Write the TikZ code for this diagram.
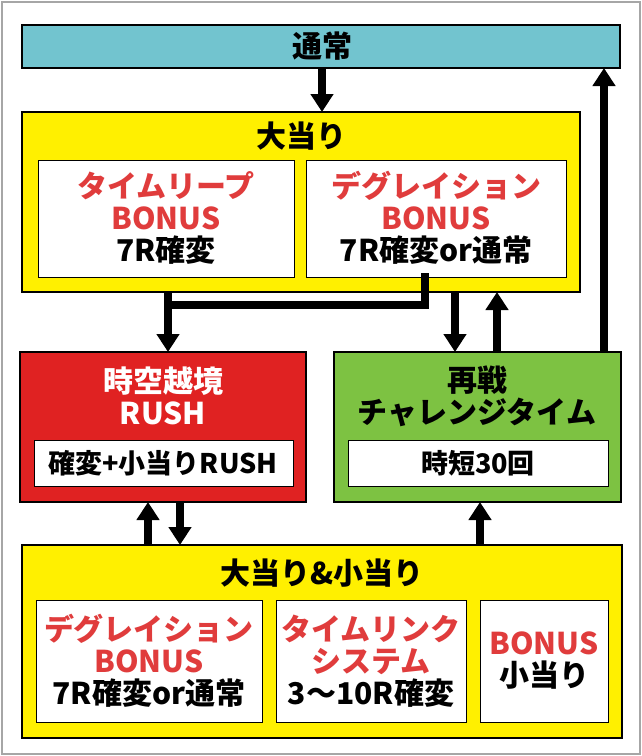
\documentclass[tikz,border=0pt]{standalone}
\usepackage{fontspec}
\setmainfont{Noto Sans CJK JP}
\usetikzlibrary{arrows.meta,positioning}
\definecolor{tsujo}{HTML}{72C4CF}
\definecolor{kiiro}{HTML}{FFF000}
\definecolor{aka}{HTML}{E02222}
\definecolor{midori}{HTML}{7DC242}
\definecolor{moji}{HTML}{E03C3C}
\begin{document}
\begin{tikzpicture}[x=1pt,y=-1pt,
    waku/.style = {draw, line width=1.2pt},% outer boxes
    naka/.style = {draw, line width=1pt, fill=white},% inner boxes
    midashi/.style = {font=\fontsize{30}{34}\selectfont\bfseries},
    nakamoji/.style = {align=center, font=\fontsize{30}{32}\selectfont\bfseries},
    ya/.style = {line width=8pt, -{Triangle[width=22pt,length=18pt]}},
    sen/.style = {line width=8pt},
                        ]
\useasboundingbox (0,0) rectangle (642,756);
\draw[gray!70, line width=2pt] (2,2) rectangle (640,754);
% boxes
\draw[waku, fill=tsujo] (22,25) rectangle (620,68);
\node[midashi] (tsujo) at (322,46) {通常};
\draw[waku, fill=kiiro] (22,112) rectangle (580,292);
\node[midashi] (ooatari) at (301,136) {大当り};
\draw[naka] (38,160) rectangle (294,277);
\draw[naka] (306,160) rectangle (566,277);
\node[nakamoji] (leap) at (166,218) {\textcolor{moji}{タイムリープ}\\\textcolor{moji}{BONUS}\\7R確変};
\node[nakamoji] (degu) at (436,218) {\textcolor{moji}{デグレイション}\\\textcolor{moji}{BONUS}\\7R確変or通常};
\draw[waku, fill=aka] (20,352) rectangle (306,502);
\node[nakamoji, text=white] (rush) at (163,396) {時空越境\\RUSH};
\draw[naka] (34,440) rectangle (293,486);
\node[nakamoji, font=\fontsize{27}{30}\selectfont\bfseries] (kakuhen) at (163,463) {確変+小当りRUSH};
\draw[waku, fill=midori] (334,352) rectangle (621,502);
\node[nakamoji] (saisen) at (477,396) {再戦\\チャレンジタイム};
\draw[naka] (348,440) rectangle (608,486);
\node[nakamoji, font=\fontsize{27}{30}\selectfont\bfseries] (jitan) at (478,463) {時短30回};
\draw[waku, fill=kiiro] (22,545) rectangle (622,738);
\node[midashi] (ryoho) at (322,573) {大当り\&小当り};
\draw[naka] (36,600) rectangle (262,722);
\draw[naka] (276,600) rectangle (466,722);
\draw[naka] (480,600) rectangle (608,722);
\node[nakamoji] (degu2) at (149,661) {\textcolor{moji}{デグレイション}\\\textcolor{moji}{BONUS}\\7R確変or通常};
\node[nakamoji] (link) at (371,661) {\textcolor{moji}{タイムリンク}\\\textcolor{moji}{システム}\\3〜10R確変};
\node[nakamoji] (koatari) at (544,661) {\textcolor{moji}{BONUS}\\小当り};
% connectors
\coordinate (a1) at (322,68);  \coordinate (a2) at (322,112);
\draw[ya] (a1) -- (a2);
\coordinate (l1) at (168,292); \coordinate (l2) at (168,352);
\draw[ya] (l1) -- (l2);
\coordinate (h1) at (168,305); \coordinate (h2) at (425,305); \coordinate (h3) at (425,277);
\draw[sen, line cap=rect] (h1) -- (h2) -- (h3);
\coordinate (s1) at (455,292); \coordinate (s2) at (455,352);
\draw[ya] (s1) -- (s2);
\coordinate (u1) at (497,352); \coordinate (u2) at (497,292);
\draw[ya] (u1) -- (u2);
\coordinate (r1) at (604,352); \coordinate (r2) at (604,68);
\draw[ya] (r1) -- (r2);
\coordinate (b1) at (148,545); \coordinate (b2) at (148,502);
\draw[ya] (b1) -- (b2);
\coordinate (c1) at (180,502); \coordinate (c2) at (180,545);
\draw[ya] (c1) -- (c2);
\coordinate (d1) at (480,545); \coordinate (d2) at (480,502);
\draw[ya] (d1) -- (d2);
\end{tikzpicture}
\end{document}
